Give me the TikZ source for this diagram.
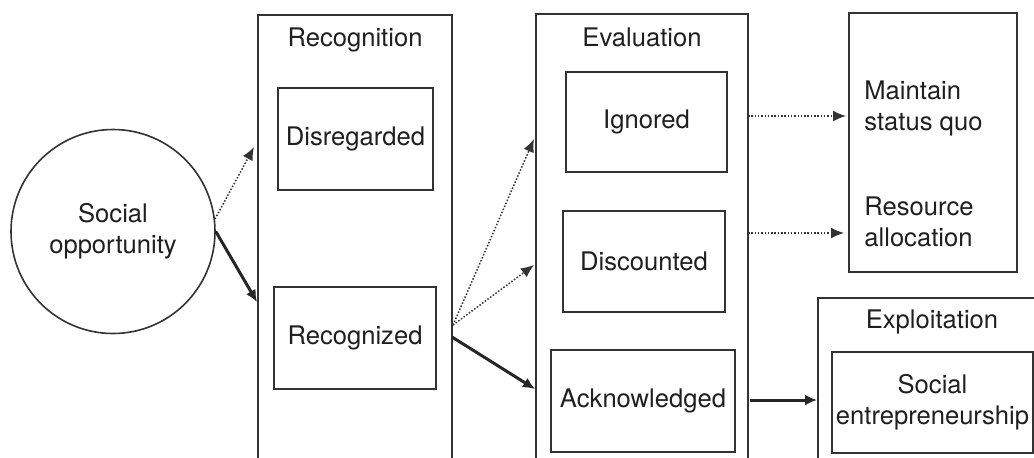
\documentclass[tikz,border=0pt]{standalone}
\usepackage{fontspec}
\setmainfont{TeX Gyre Heros}
\usetikzlibrary{arrows.meta}
\begin{document}
\begin{tikzpicture}[x=0.5pt,y=-0.5pt,
  every node/.style={font=\fontsize{12.8}{15.5}\selectfont, text=black!88},
  box/.style={draw=black!80, line width=1pt, rectangle, inner sep=0pt},
  lab/.style={inner sep=0pt, align=center},
  dotarrow/.style={draw=black!80, line width=0.75pt, dash pattern=on 0.75pt off 0.9pt, -{Latex[length=6.5pt,width=5.5pt]}},
  solidarrow/.style={draw=black!85, line width=1.5pt, -{Latex[length=6pt,width=5.5pt]}}
]
\useasboundingbox (0,0) rectangle (1034,457);
\clip (0,0) rectangle (1034,457);

% Social opportunity
\node[draw=black!80, line width=0.8pt, circle, minimum size=102pt, inner sep=0pt, align=center] (opp) at (113,231.5) {Social\\opportunity};

% Recognition
\node[box, minimum width=97pt, minimum height=232.5pt] (recog) at (355,247.5) {};
\node[lab] (recoglab) at (355,40) {Recognition};
\node[box, minimum width=77.5pt, minimum height=51pt] (disreg) at (355.5,139) {Disregarded};
\node[box, minimum width=81pt, minimum height=51pt] (recgz) at (355,338) {Recognized};

% Evaluation
\node[box, minimum width=106pt, minimum height=233pt] (eval) at (642,247) {};
\node[lab] (evallab) at (642,37) {Evaluation};
\node[box, minimum width=80.5pt, minimum height=50pt] (ign) at (646.5,122) {Ignored};
\node[box, minimum width=81pt, minimum height=50.5pt] (disc) at (644,261.5) {Discounted};
\node[box, minimum width=92pt, minimum height=51pt] (ack) at (643,401) {Acknowledged};

% Outcomes
\node[box, minimum width=84pt, minimum height=129.5pt] (outc) at (933,142.5) {};
\node[lab, align=left, anchor=west] (msq) at (864,108) {Maintain\\status quo};
\node[lab, align=left, anchor=west] (ralloc) at (864,221.5) {Resource\\allocation};

% Exploitation
\node[box, minimum width=121pt, minimum height=91pt] (expl) at (939,389) {};
\node[lab] (expllab) at (932,322) {Exploitation};
\node[box, minimum width=100.5pt, minimum height=50.5pt, align=center] (socent) at (932.5,402.5) {Social\\entrepreneurship};

% connector end points
\coordinate (a1) at (254,147);
\coordinate (a2) at (257,302);
\coordinate (r0) at (453,325);
\coordinate (r1) at (452,337);
\coordinate (e1) at (534,139);
\coordinate (e2) at (534,265);
\coordinate (e3) at (535,389);
\coordinate (i0) at (748,116);
\coordinate (i1) at (846,116);
\coordinate (d0) at (748,233);
\coordinate (d1) at (844,233);
\coordinate (k0) at (750,400);
\coordinate (k1) at (817,400);

\draw[dotarrow] (opp.7) -- (a1);
\draw[solidarrow] (opp.0) -- (a2);
\draw[dotarrow] (r0) -- (e1);
\draw[dotarrow] (r0) -- (e2);
\draw[solidarrow] (r1) -- (e3);
\draw[dotarrow] (i0) -- (i1);
\draw[dotarrow] (d0) -- (d1);
\draw[solidarrow] (k0) -- (k1);
\end{tikzpicture}
\end{document}
